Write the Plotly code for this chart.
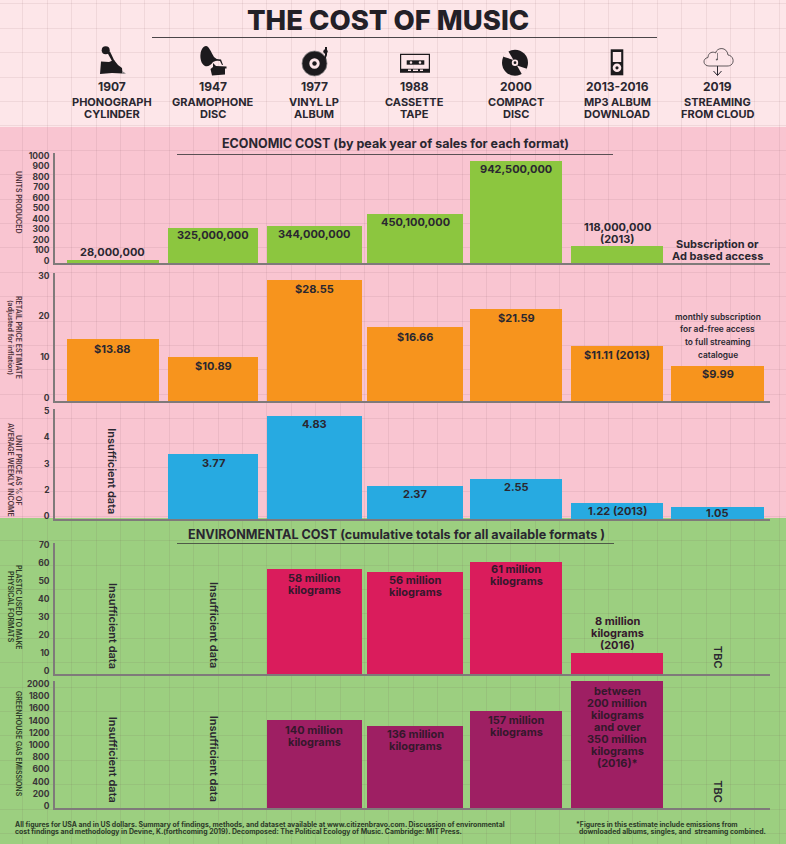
import plotly.graph_objects as go

FONT = "Inter"
INK = "#2a2730"
AXIS = "#7f7a7a"

# ---------- data ----------
formats = ["Phonograph cylinder", "Gramophone disc", "Vinyl LP album", "Cassette tape",
           "Compact disc", "MP3 album download", "Streaming from cloud"]
years = ["1907", "1947", "1977", "1988", "2000", "2013-2016", "2019"]
header_line1 = ["PHONOGRAPH", "GRAMOPHONE", "VINYL LP", "CASSETTE", "COMPACT", "MP3 ALBUM", "STREAMING"]
header_line2 = ["CYLINDER", "DISC", "ALBUM", "TAPE", "DISC", "DOWNLOAD", "FROM CLOUD"]

units_produced = [28, 332, 351, 464, 967, 161, None]
retail_price = [15.2, 10.8, 29.7, 18.2, 22.6, 13.5, 8.6]
income_share = [None, 3.1, 4.9, 1.57, 1.9, 0.76, 0.57]
plastic_used = [None, None, 58.5, 56.5, 62.5, 11.5, None]
ghg_emissions = [None, None, 1440, 1345, 1590, 2082, None]

units_labels = ["28,000,000", "325,000,000", "344,000,000", "450,100,000", "942,500,000",
                "118,000,000<br>(2013)", "Subscription or<br>Ad based access"]
price_labels = ["$13.88", "$10.89", "$28.55", "$16.66", "$21.59", "$11.11 (2013)", "$9.99"]
share_labels = ["Insufficient data", "3.77", "4.83", "2.37", "2.55", "1.22 (2013)", "1.05"]
plastic_labels = ["Insufficient data", "Insufficient data", "58 million<br>kilograms",
                  "56 million<br>kilograms", "61 million<br>kilograms",
                  "8 million<br>kilograms<br>(2016)", "TBC"]
ghg_labels = ["Insufficient data", "Insufficient data", "140 million<br>kilograms",
              "136 million<br>kilograms", "157 million<br>kilograms",
              "between<br>200 million<br>kilograms<br>and over<br>350 million<br>kilograms<br>(2016)*", "TBC"]

units_ticks = [0, 100, 200, 300, 400, 500, 600, 700, 800, 900, 1000]
price_ticks = [0, 10, 20, 30]
share_tick_labels = ["0", "2", "3", "4", "5"]
plastic_ticks = [0, 10, 20, 30, 40, 50, 60, 70]
ghg_ticks = [0, 200, 400, 600, 800, 1000, 1200, 1400, 1600, 1800, 2000]

# ---------- layout helpers (pixels of the 786x844 page) ----------
W, H = 786, 844
bar_widths = [0.912, 0.892, 0.941, 0.951, 0.912, 0.912, 0.922]
cat_range = [-0.57, 6.516]
ax_left, ax_right = 55, 770
LINE_STEP = 12


def ydom(top, base):
    return [1 - base / H, 1 - top / H]


panels = [
    dict(v=units_produced, c="#8cc63f", top=153, base=263, ymax=1043, tv=units_ticks, tt=[str(t) for t in units_ticks],
         labels=units_labels, ink=INK, off=[-8, 7, 8, 8, 8, -13, -13], ty=[None] * 7, ls=-2),
    dict(v=retail_price, c="#f7941d", top=273, base=401, ymax=31.4, tv=price_ticks, tt=[str(t) for t in price_ticks],
         labels=price_labels, ink=INK, off=[10, 9, 9, 10, 9, 9, 8], ty=[None] * 7, ls=-3),
    dict(v=income_share, c="#27aae1", top=409, base=519, ymax=5.24, tv=[0, 1.25, 2.5, 3.75, 5], tt=share_tick_labels,
         labels=share_labels, ink=INK, off=[None, 9, 8, 8, 8, 8, 6], ty=[2.3] + [None] * 6, ls=-3),
    dict(v=plastic_used, c="#da1c5c", top=543, base=674, ymax=72.8, tv=plastic_ticks, tt=[str(t) for t in plastic_ticks],
         labels=plastic_labels, ink="#35182c", off=[None, None, 15, 14, 13, -20, None], ty=[27, 27, None, None, None, None, 9], ls=-3),
    dict(v=ghg_emissions, c="#9e1f63", top=681, base=808, ymax=2082, tv=ghg_ticks, tt=[str(t) for t in ghg_ticks],
         labels=ghg_labels, ink="#35182c", off=[None, None, 15.5, 14, 15, 46, None], ty=[800, 800, None, None, None, None, 260], ls=-2),
]

fig = go.Figure()

# invisible trace that carries the page-sized background axes with the paper grid
fig.add_trace(go.Scatter(x=[0], y=[0], mode="markers", marker=dict(opacity=0), hoverinfo="skip", showlegend=False))
layout = dict(
    width=W, height=H, margin=dict(l=0, r=0, t=0, b=0, pad=0, autoexpand=False), showlegend=False,
    paper_bgcolor="#fde6e9", plot_bgcolor="rgba(0,0,0,0)", bargap=0,
    font=dict(family=FONT, color=INK),
    xaxis=dict(domain=[0, 1], range=[0, W], showgrid=True, gridcolor="rgba(110,60,70,0.085)", gridwidth=1,
               tick0=413.3, dtick=24.4, showticklabels=False, zeroline=False, ticks="", showline=False, fixedrange=True),
    yaxis=dict(domain=[0, 1], range=[H, 0], showgrid=True, gridcolor="rgba(110,60,70,0.085)", gridwidth=1,
               tick0=272.3, dtick=24.4, showticklabels=False, zeroline=False, ticks="", showline=False, fixedrange=True),
)
annotations = []
shapes = [
    dict(type="rect", xref="paper", yref="paper", x0=0, x1=1, y0=1 - 518 / H, y1=1 - 127 / H,
         fillcolor="#f9c5d1", line_width=0, layer="below"),
    dict(type="rect", xref="paper", yref="paper", x0=0, x1=1, y0=0, y1=1 - 518 / H,
         fillcolor="#9ccf80", line_width=0, layer="below"),
]


def page_text(x, y, text, size, weight=700, color=INK, angle=0, xanchor="center", align="center"):
    annotations.append(dict(xref="x", yref="y", x=x, y=y, text=text, showarrow=False, textangle=angle,
                            xanchor=xanchor, yanchor="middle", align=align, borderpad=0, borderwidth=0,
                            font=dict(family=FONT, size=size, weight=weight, color=color)))


for i, p in enumerate(panels):
    n = i + 2
    xa, ya = f"x{n}", f"y{n}"
    fig.add_trace(go.Bar(x=formats, y=p["v"], width=bar_widths, marker=dict(color=p["c"], line_width=0),
                         xaxis=xa, yaxis=ya, hoverinfo="skip", showlegend=False))
    layout[f"xaxis{n}"] = dict(domain=[ax_left / W, ax_right / W], range=cat_range, type="category",
                               categoryorder="array", categoryarray=formats, anchor=ya, showticklabels=False,
                               showgrid=False, zeroline=False, ticks="", showline=True, linecolor=AXIS, linewidth=2,
                               fixedrange=True)
    layout[f"yaxis{n}"] = dict(domain=ydom(p["top"], p["base"]), range=[0, p["ymax"]], anchor=xa,
                               tickvals=p["tv"], ticktext=p["tt"], ticklabelshift=p["ls"],
                               tickfont=dict(family=FONT, size=8.5, weight=700, color="#3a3538"),
                               showgrid=False, zeroline=False, ticks="", showline=True, linecolor=AXIS, linewidth=1.5,
                               fixedrange=True, ticklabelstandoff=2)
    for j, label in enumerate(p["labels"]):
        val = p["v"][j]
        if p["ty"][j] is not None:  # rotated "no data" notes
            annotations.append(dict(xref=xa, yref=ya, x=j, y=p["ty"][j], text=label, showarrow=False, textangle=90,
                                    font=dict(family=FONT, size=11, weight=600, color=INK)))
            continue
        rows = label.split("<br>")
        for k, row in enumerate(rows):
            centre = p["off"][j] + (k - (len(rows) - 1) / 2) * LINE_STEP
            annotations.append(dict(xref=xa, yref=ya, x=j, y=val if val is not None else 0, text=row, showarrow=False,
                                    yanchor="middle", yshift=-centre, align="center",
                                    font=dict(family=FONT, size=11, weight=700, color=p["ink"])))

# ---------- header ----------
page_text(388, 20, "THE COST OF MUSIC", 27.5, weight=800, color="#232027")
shapes.append(dict(type="line", xref="x", yref="y", x0=152, x1=657, y0=37.5, y1=37.5, line=dict(color="#4a4548", width=1)))
header_x = [112, 213, 314, 414, 516, 617, 717.5]
for x, yr, a, b in zip(header_x, years, header_line1, header_line2):
    page_text(x, 86, yr, 12)
    page_text(x, 102, a, 11)
    page_text(x, 114, b, 11)

# section titles
page_text(395, 143, "ECONOMIC COST (by peak year of sales for each format)", 12.5)
shapes.append(dict(type="line", xref="x", yref="y", x0=177, x1=613, y0=154.5, y1=154.5, line=dict(color="#5a5054", width=1)))
page_text(396, 534, "ENVIRONMENTAL COST (cumulative totals for all available formats )", 12.6)
shapes.append(dict(type="line", xref="x", yref="y", x0=177, x1=614, y0=543.5, y1=543.5, line=dict(color="#4f5a48", width=1)))

# rotated y axis captions
CAP_PINK, CAP_GREEN = "#4b3038", "#2b3a26"
page_text(19, 202, "UNITS PRODUCED", 7, 600, CAP_PINK, 90)
page_text(19, 337, "RETAIL PRICE ESTIMATE", 7, 600, CAP_PINK, 90)
page_text(11, 337, "(adjusted for inflation)", 7, 600, CAP_PINK, 90)
page_text(19, 470, "UNIT PRICE AS % OF", 7, 600, CAP_PINK, 90)
page_text(11, 470, "AVERAGE WEEKLY INCOME", 7, 600, CAP_PINK, 90)
page_text(19, 607, "PLASTIC USED TO MAKE", 7, 600, CAP_GREEN, 90)
page_text(11, 607, "PHYSICAL FORMATS", 7, 600, CAP_GREEN, 90)
page_text(19, 744, "GREENHOUSE GAS EMISSIONS", 7, 600, CAP_GREEN, 90)

# streaming note
for y, t in zip([317, 329, 342, 355], ["monthly subscription", "for ad-free access", "to full streaming", "catalogue"]):
    page_text(717.5, y, t, 8.4, 600)

# footer
FOOT = "#2c3a28"
page_text(15, 824, "All figures for USA and in US dollars. Summary of findings, methods, and dataset available at www.citizenbravo.com. Discussion of environmental", 6.9, 700, FOOT, xanchor="left")
page_text(15, 831, "cost findings and methodology in Devine, K.(forthcoming 2019). Decomposed: The Political Ecology of Music. Cambridge: MIT Press.", 6.9, 700, FOOT, xanchor="left")
page_text(575.5, 824, "*Figures in this estimate include emissions from", 6.9, 700, FOOT, xanchor="left")
page_text(578.5, 831, "downloaded albums, singles, and  streaming combined.", 6.9, 700, FOOT, xanchor="left")

# ---------- icons (decorative vector glyphs) ----------
BLACK = "#1c1a1d"
LIGHT = "#fde6e9"
CLEAR = "rgba(0,0,0,0)"


def path(d, fill=BLACK, line=None, width=0):
    shapes.append(dict(type="path", xref="x", yref="y", path=d, fillcolor=fill,
                       line=dict(color=line or CLEAR, width=width)))


def circle(cx, cy, r, fill=BLACK, line=None, width=0):
    shapes.append(dict(type="circle", xref="x", yref="y", x0=cx - r, x1=cx + r, y0=cy - r, y1=cy + r,
                       fillcolor=fill, line=dict(color=line or CLEAR, width=width)))


# phonograph
circle(105.7, 50.3, 4)
path("M107,52 L110,51.5 L114.5,61 L112.5,62 Z")
path("M101,61.5 L109,62 L114,60 L118,65 L122,68 L122.5,73.5 L112,73 L100,74 Z")
path("M122,71 L126,73.5 L122.5,74 Z", "#8a8588")
# gramophone
path("M206,46 C209,46 211,52 214,57 L218,60 L213,62 C211,65 208,67 205,66 C201,64 200,58 200.5,54 C201,50 203,46 206,46 Z")
path("M216,59 L221,59.5 L223,65 L222,65 L220,61 L216,60.5 Z")
path("M213,63 L216,66 L226.5,66.5 L226.5,68.5 L225,68.5 L225,74.5 L212,75.5 L210.5,69 L213,67 Z")
# vinyl
circle(314.5, 63.5, 12.5)
circle(314.5, 63.5, 12.5, CLEAR, "#8a8588", 0.8)
circle(314.5, 63.5, 5.2, LIGHT)
circle(314.5, 63.5, 2.2)
path("M325,47 L327,47 L327,55 L323,66 L319,70 L318,69 L321,65 L325,55 Z")
circle(325.5, 51.5, 2.2)
# cassette
path("M400,53.7 L430,53.7 L430,72.7 L400,72.7 Z M401.2,55 L401.2,68.7 L428.8,68.7 L428.8,55 Z")
path("M406.7,60.3 L424.3,60.3 L424.3,64.7 L406.7,64.7 Z")
circle(411, 62.5, 1.3, LIGHT)
circle(420, 62.5, 1.3, LIGHT)
path("M408,69.5 L411,69.5 L411,71 L408,71 Z M413,69.5 L418,69.5 L418,71 L413,71 Z M420,69.5 L423,69.5 L423,71 L420,71 Z", LIGHT)
# compact disc
circle(515, 62.7, 13)
path("M513.5,60 L508,50.8 C506,52 504,54 503.3,56.7 Z", LIGHT)
path("M517,65.5 L522,74.5 C524,73.4 526,71 526.8,68.7 Z", LIGHT)
circle(515, 62.7, 3.2, LIGHT)
circle(515, 62.7, 1.4)
# mp3 player
path("M610.7,49.3 L623.3,49.3 L623.3,75.3 L610.7,75.3 Z")
path("M612.8,52 L621.2,52 L621.2,62 L612.8,62 Z", LIGHT)
circle(617, 67.8, 4.3, LIGHT)
circle(617, 67.8, 1.6)
# cloud
path("M709,66 C703,66 702,58.5 708,57.5 C708,52.5 713,51 715.5,53 C717,47 727,46.5 728,55 "
     "C733,55.5 735,62 731,65 C730,65.7 729,66 727,66 Z", CLEAR, "#3a3538", 0.8)
path("M717.5,66 L717.5,75 M713.5,71 L717.5,75.5 L721.5,71", CLEAR, "#2a2730", 1)
path("M718,53 L718,60 L716,60.5 L715.8,59 L717.2,58.5 L717.2,53 Z", "#6a6568")

layout["annotations"] = annotations
layout["shapes"] = shapes
fig.update_layout(**layout)
fig.write_html("out.html", config={"displayModeBar": False},
               post_script="document.body.style.margin='0';document.body.style.overflow='hidden';")
